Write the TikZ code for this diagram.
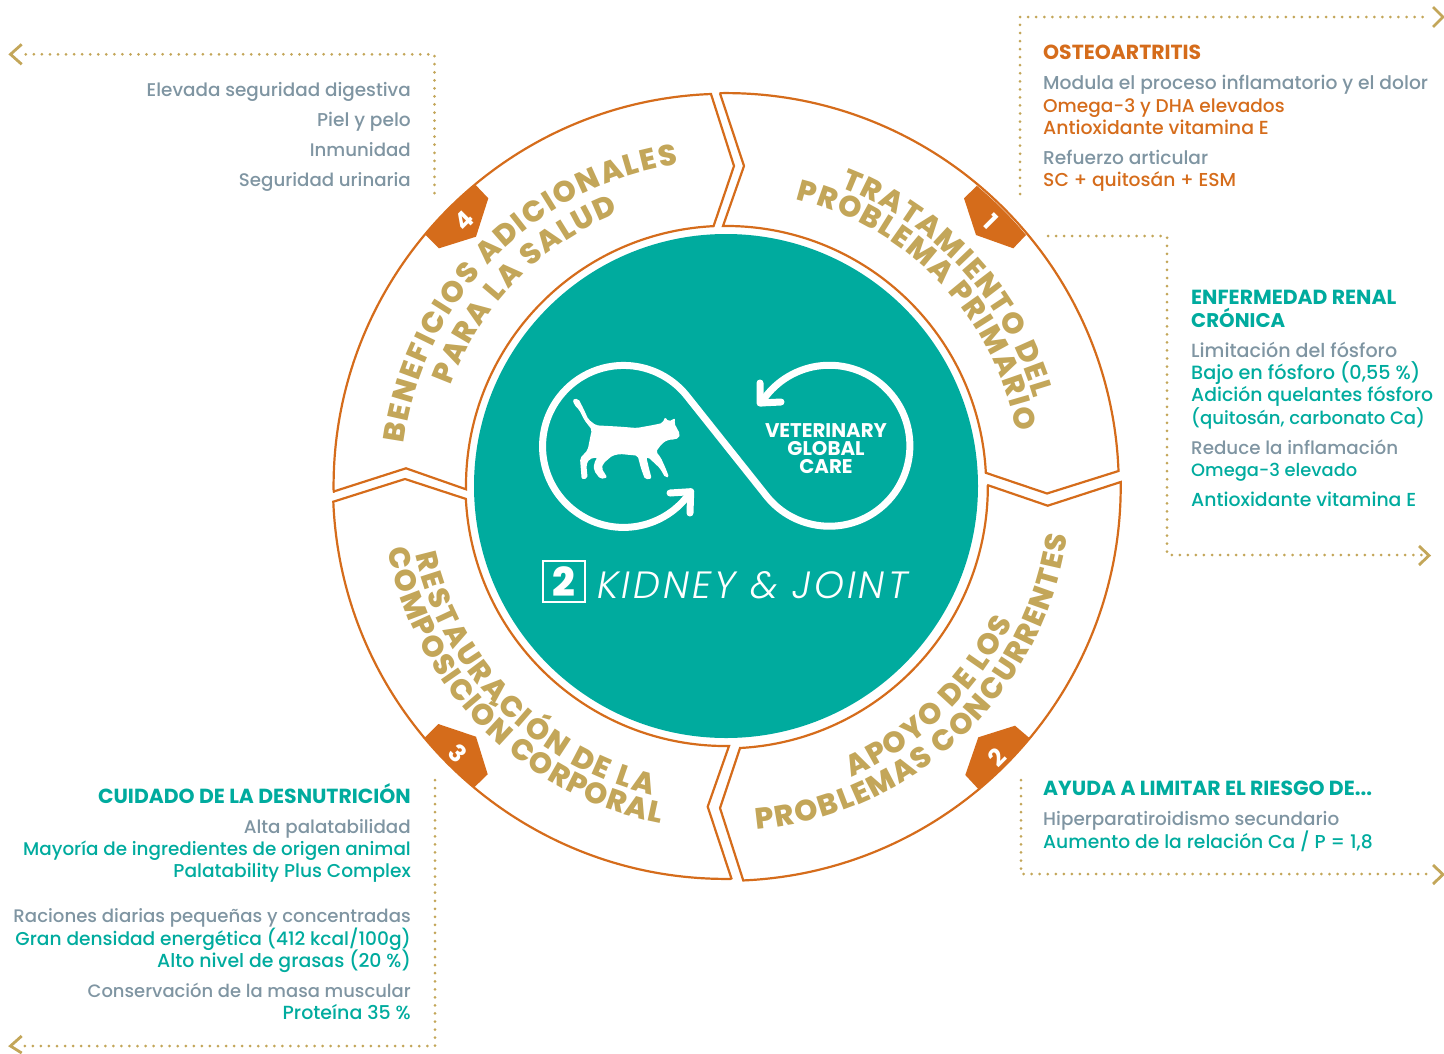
\documentclass[tikz,border=0pt]{standalone}
\usepackage{fontspec}
\usetikzlibrary{decorations.text}
\setmainfont{Poppins}
\newfontfamily\lightit{Poppins}[UprightFont=* Light,ItalicFont=* Light Italic,LetterSpace=8]
\newfontfamily\medfont{Poppins}[UprightFont=* Medium,BoldFont=* Bold]
\newfontfamily\xbold{Poppins}[UprightFont=* ExtraBold,BoldFont=* ExtraBold]
\definecolor{tealc}{HTML}{00AB9E}
\definecolor{orangec}{HTML}{D56C1B}
\definecolor{goldc}{HTML}{C3A659}
\definecolor{grayc}{HTML}{7F95A2}
\newcommand\bodyf{\medfont\fontsize{18.6}{20}\selectfont}
\newcommand\headf{\bfseries\fontsize{20.4}{20}\selectfont}
\newcommand\curvef{\xbold\fontsize{29.5}{30}\selectfont}
\tikzset{
  ring/.style={draw=orangec,line width=2.2pt,fill=white,line join=miter,miter limit=2},
  badge/.style={fill=orangec},
  badgenum/.style={font=\bfseries\fontsize{24}{24}\selectfont,text=white,inner sep=0pt},
  dotline/.style={draw=goldc,line width=3pt,line cap=round,dash pattern=on 0pt off 8.05pt},
  chev/.style={draw=goldc,line width=2.8pt},
  lft/.style={anchor=base west,inner sep=0pt,font=\bodyf},
  rgt/.style={anchor=base east,inner sep=0pt,font=\bodyf},
  fs/.style={font=\medfont\fontsize{#1}{20}\selectfont},
  gr/.style={text=grayc},
  tl/.style={text=tealc},
  og/.style={text=orangec},
  hd/.style={font=\headf},
  curved/.style={decorate,decoration={text along path,text align={fit to path},text={|\curvef\color{goldc}|#1}}},
  infline/.style={draw=white,line width=7pt,line cap=round,line join=round},
  vgc/.style={font=\bfseries\fontsize{19.8}{20}\selectfont,text=white,inner sep=0pt,anchor=base}
}
\begin{document}
\begin{tikzpicture}[x=1pt,y=-1pt]
\useasboundingbox (0,0) rectangle (1444,1053);
\coordinate (c) at (726,486);
% centre disc
\fill[tealc] (c) circle[radius=252];
% ring segments
\draw[ring] (720,93.3) -- (744,166) -- (723,226) arc[start angle=-90.7,end angle=-2.9,radius=260] -- (1047,493.5) -- (1118.5,471) arc[start angle=-2.2,end angle=-90.9,radius=393] -- cycle;
\draw[ring] (987.3,485) -- (1047.7,505.7) -- (1120.7,482) arc[start angle=-0.6,end angle=87.5,radius=394.7] -- (720,808) -- (740,748) arc[start angle=86.9,end angle=-0.2,radius=262] -- cycle;
\draw[ring] (731.7,879.3) -- (707.7,806.7) -- (729,746) arc[start angle=89.3,end angle=177.1,radius=260.3] -- (405,479) -- (333.3,501.7) arc[start angle=177.7,end angle=89.2,radius=393] -- cycle;
\draw[ring] (333,491.7) -- (406,468.3) -- (466,489.3) arc[start angle=179.3,end angle=267.2,radius=260.3] -- (734,166) -- (711,94) arc[start angle=267.8,end angle=179.2,radius=392.5] -- cycle;
% badges
\fill[badge] (976.7,186) -- (964,198.3) -- (976,235) -- (1013.3,248.3) -- (1026,235) arc[start angle=-39.9,end angle=-50.1,radius=392] -- cycle;
\fill[badge] (1015,725.7) -- (978.3,737.3) -- (965.3,775) -- (978.3,789) arc[start angle=50.2,end angle=39.7,radius=394.5] -- cycle;
\fill[badge] (425,737.3) -- (438.3,724) -- (476,736.7) -- (487.7,774.3) -- (474.3,787.3) arc[start angle=129.9,end angle=140.1,radius=392.5] -- cycle;
\fill[badge] (475,184.3) -- (488.3,198.3) -- (476,236.7) -- (439,248.3) -- (425,234.3) arc[start angle=219.9,end angle=230.2,radius=392.5] -- cycle;
\node[badgenum,rotate=-45] (n1) at (991.2,221.7) {1};
\node[badgenum,rotate=45] (n2) at (996.7,757.3) {2};
\node[badgenum,rotate=-45] (n3) at (458.3,753.3) {3};
\node[badgenum,rotate=45] (n4) at (464.3,220.7) {4};
% curved titles
\path[curved={TRATAMIENTO DEL}] (c) ++(-69:320) arc[start angle=-69,end angle=-16,radius=320];
\path[curved={PROBLEMA PRIMARIO}] (c) ++(-76.3:295) arc[start angle=-76.3,end angle=-10.5,radius=295];
\path[curved={APOYO DE LOS}] (c) ++(66.6:317) arc[start angle=66.6,end angle=25.4,radius=317];
\path[curved={PROBLEMAS CONCURRENTES}] (c) ++(84.9:345) arc[start angle=84.9,end angle=8.2,radius=345];
\path[curved={RESTAURACIÓN DE LA}] (c) ++(167.5:318) arc[start angle=167.5,end angle=103.5,radius=318];
\path[curved={COMPOSICIÓN CORPORAL}] (c) ++(169.3:344) arc[start angle=169.3,end angle=101,radius=344];
\path[curved={BENEFICIOS ADICIONALES}] (c) ++(187.5:325) arc[start angle=187.5,end angle=261.5,radius=325];
\path[curved={PARA LA SALUD}] (c) ++(200:293) arc[start angle=200,end angle=248.5,radius=293];
% infinity
\draw[infline] (690.7,491.7) arc[start angle=34,end angle=320.8,radius=81] -- (767,496.6) arc[start angle=140.8,end angle=-148,radius=80.5];
\draw[infline] (670,493) -- (690.7,491.7) -- (690,513);
\draw[infline] (760,383) -- (760,403) -- (781,402);
% cat
\begin{scope}[shift={(520,340)},scale=0.3333]
\fill[white,rounded corners=2pt] (158,178) -- (175,176) -- (190,205) -- (205,238) -- (228,256) -- (300,260) -- (350,264) -- (400,255) -- (428,249) -- (435,231) -- (446,245) -- (466,234) -- (463,250) -- (480,282) -- (477,294) -- (465,298) -- (442,300) -- (425,312) -- (408,335) -- (422,352) -- (437,385) -- (447,411) -- (436,413) -- (420,385) -- (385,352) -- (379,352) -- (387,385) -- (395,416) -- (375,418) -- (363,385) -- (353,347) -- (300,342) -- (277,347) -- (250,370) -- (245,385) -- (262,413) -- (241,417) -- (222,392) -- (222,370) -- (232,352) -- (208,357) -- (199,375) -- (203,415) -- (185,418) -- (180,355) -- (203,330) -- (213,280) -- (216,270) -- (193,240) -- (178,210) -- (163,195) -- cycle;
\end{scope}
\node[vgc] (v1) at (826,437.5) {VETERINARY};
\node[vgc] (v2) at (826,455.5) {GLOBAL};
\node[vgc] (v3) at (826,473.5) {CARE};
% product name
\node[draw=white,line width=2.4pt,minimum width=42pt,minimum height=41pt,inner sep=0pt,text=white,font=\xbold\fontsize{40}{40}\selectfont] (two) at (564.2,581.2) {2};
\node[anchor=base west,inner sep=0pt,text=white,font=\lightit\itshape\fontsize{38}{38}\selectfont] (kj) at (597,598) {KIDNEY \& JOINT};
% dotted leaders
\coordinate (a1) at (1020,194); \coordinate (a2) at (1020,17); \coordinate (a3) at (1430,17);
\draw[dotline] (a1) -- (a2) -- (a3);
\draw[chev] (1433,7) -- (1443,17) -- (1433,27);
\coordinate (b1) at (1048,236); \coordinate (b2) at (1167,236); \coordinate (b3) at (1167,555); \coordinate (b4) at (1422,555);
\draw[dotline] (b1) -- (b2) -- (b3) -- (b4);
\draw[chev] (1419,546) -- (1429,555.5) -- (1419,565);
\coordinate (d1) at (1021,780); \coordinate (d2) at (1021,874); \coordinate (d3) at (1430,874);
\draw[dotline] (d1) -- (d2) -- (d3);
\draw[chev] (1433,865) -- (1443,874.5) -- (1433,884);
\coordinate (e1) at (434.5,193); \coordinate (e2) at (434.5,54.3); \coordinate (e3) at (22,54.3);
\draw[dotline] (e1) -- (e2) -- (e3);
\draw[chev] (21.7,44.3) -- (10.5,54.3) -- (21.7,64.3);
\coordinate (f1) at (435,780); \coordinate (f2) at (435,1046); \coordinate (f3) at (22,1046);
\draw[dotline] (f1) -- (f2) -- (f3);
\draw[chev] (21.7,1036) -- (10.5,1046) -- (21.7,1053);
% top-left text
\node[rgt,gr,fs=18.4] (t1) at (411,96.7) {Elevada seguridad digestiva};
\node[rgt,gr] (t2) at (411,126) {Piel y pelo};
\node[rgt,gr,fs=18.2] (t3) at (411,156) {Inmunidad};
\node[rgt,gr,fs=18.2] (t4) at (411,186) {Seguridad urinaria};
% top-right text
\node[lft,og,hd] (u1) at (1043,59) {OSTEOARTRITIS};
\node[lft,gr,fs=18.7] (u2) at (1043,89) {Modula el proceso inflamatorio y el dolor};
\node[lft,og,fs=18.5] (u3) at (1043,112) {Omega-3 y DHA elevados};
\node[lft,og,fs=18.9] (u4) at (1043,134) {Antioxidante vitamina E};
\node[lft,gr] (u5) at (1043,164) {Refuerzo articular};
\node[lft,og,fs=18.7] (u6) at (1043,186) {SC + quitosán + ESM};
% right text
\node[lft,tl,hd] (w1) at (1191,304) {ENFERMEDAD RENAL};
\node[lft,tl,hd,font=\bfseries\fontsize{19.8}{20}\selectfont] (w2) at (1191,327) {CRÓNICA};
\node[lft,gr,fs=19.1] (w3) at (1191,357) {Limitación del fósforo};
\node[lft,tl,fs=19.2] (w4) at (1191,379) {Bajo en fósforo (0,55 \%)};
\node[lft,tl,fs=18.8] (w5) at (1191,401) {Adición quelantes fósforo};
\node[lft,tl,fs=18.05] (w6) at (1191,424) {(quitosán, carbonato Ca)};
\node[lft,gr,fs=18.3] (w7) at (1191,454) {Reduce la inflamación};
\node[lft,tl,fs=17.85] (w8) at (1191,476) {Omega-3 elevado};
\node[lft,tl,fs=18.85] (w9) at (1191,506) {Antioxidante vitamina E};
% lower-right text
\node[lft,tl,hd] (x1) at (1043,795) {AYUDA A LIMITAR EL RIESGO DE...};
\node[lft,gr,fs=18.4] (x2) at (1043,825) {Hiperparatiroidismo secundario};
\node[lft,tl,fs=18.7] (x3) at (1043,848) {Aumento de la relación Ca / P = 1,8};
% lower-left text
\node[rgt,tl,hd] (y1) at (411,803) {CUIDADO DE LA DESNUTRICIÓN};
\node[rgt,gr,fs=18.3] (y2) at (411,833) {Alta palatabilidad};
\node[rgt,tl,fs=18.35] (y3) at (411,855) {Mayoría de ingredientes de origen animal};
\node[rgt,tl] (y4) at (411,877) {Palatability Plus Complex};
\node[rgt,gr,fs=18.15] (y5) at (411,922) {Raciones diarias pequeñas y concentradas};
\node[rgt,tl] (y6) at (411,945) {Gran densidad energética (412 kcal/100g)};
\node[rgt,tl,fs=18.9] (y7) at (411,967) {Alto nivel de grasas (20 \%)};
\node[rgt,gr,fs=17.95] (y8) at (411,997) {Conservación de la masa muscular};
\node[rgt,tl,fs=19] (y9) at (411,1019) {Proteína 35 \%};
\end{tikzpicture}
\end{document}
